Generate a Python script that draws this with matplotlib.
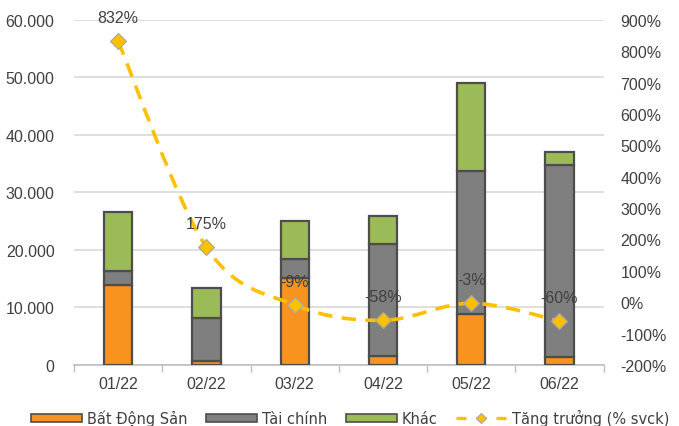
import matplotlib
matplotlib.use('Agg')
import matplotlib.pyplot as plt
import numpy as np
from matplotlib.path import Path
from matplotlib.patches import PathPatch, Patch
from matplotlib.lines import Line2D
from matplotlib.ticker import FuncFormatter, FixedLocator

plt.rcParams['font.family'] = ['Liberation Sans', 'DejaVu Sans']

months    = ['01/22', '02/22', '03/22', '04/22', '05/22', '06/22']
bds       = [13900, 700, 15200, 1550, 8850, 1350]      # Bất Động Sản
tai_chinh = [2450, 7450, 3250, 19500, 24900, 33400]    # Tài chính
khac      = [10250, 5150, 6500, 4800, 15250, 2200]     # Khác
growth    = [832, 175, -9, -58, -3, -60]               # % svck

ORANGE = '#F7931E'
GREY   = '#7F7F7F'
GREEN  = '#9BBB59'
GOLD   = '#FFC000'
EDGE   = '#4D4D4D'
TXT    = '#404040'

fig = plt.figure(figsize=(6.79, 4.27), dpi=100)
ax = fig.add_axes([0.109, 0.143, 0.78, 0.808])
ax2 = ax.twinx()

x = np.arange(len(months))
w = 0.32
bds_a = np.array(bds)
tc_a = np.array(tai_chinh)
kh_a = np.array(khac)
kw = dict(width=w, edgecolor=EDGE, linewidth=1.6, zorder=3)
ax.bar(x, bds_a, color=ORANGE, **kw)
ax.bar(x, tc_a, bottom=bds_a, color=GREY, **kw)
ax.bar(x, kh_a, bottom=bds_a + tc_a, color=GREEN, **kw)

ax.set_xlim(-0.5, len(months) - 0.5)
ax.set_ylim(0, 60000)
ax.set_yticks(np.arange(0, 60001, 10000))
ax.yaxis.set_major_formatter(FuncFormatter(lambda v, p: f'{int(v):,}'.replace(',', '.')))
ax.grid(axis='y', color='#D9D9D9', linewidth=1.2, zorder=0)
ax.set_axisbelow(True)
ax.set_xticks(x)
ax.set_xticklabels(months)
ax.xaxis.set_minor_locator(FixedLocator(np.arange(-0.5, len(months), 1.0)))
ax.tick_params(axis='x', which='major', length=0, pad=8, labelsize=11.5, labelcolor=TXT)
ax.tick_params(axis='x', which='minor', length=5, color='#BFBFBF', width=1)
ax.tick_params(axis='y', length=0, pad=14, labelsize=11.5, labelcolor=TXT)
for s in ['left', 'right', 'top']:
    ax.spines[s].set_visible(False)
    ax2.spines[s].set_visible(False)
ax.spines['bottom'].set_color('#BFBFBF')
ax.spines['bottom'].set_linewidth(1.2)
ax2.spines['bottom'].set_visible(False)

ax2.set_ylim(-200, 900)
ax2.set_yticks(np.arange(-200, 901, 100))
ax2.yaxis.set_major_formatter(FuncFormatter(lambda v, p: f'{int(v)}%'))
ax2.tick_params(axis='y', length=0, pad=12, labelsize=11.5, labelcolor=TXT)

# smoothed growth line (Catmull-Rom as cubic Bezier)
pts = np.column_stack([x, growth]).astype(float)
n = len(pts)
verts = [pts[0]]
codes = [Path.MOVETO]
for i in range(n - 1):
    p0 = pts[i - 1] if i > 0 else pts[i]
    p1 = pts[i]
    p2 = pts[i + 1]
    p3 = pts[i + 2] if i + 2 < n else pts[i + 1]
    c1 = p1 + (p2 - p0) / 6
    c2 = p2 - (p3 - p1) / 6
    verts += [c1, c2, p2]
    codes += [Path.CURVE4] * 3
curve = PathPatch(Path(verts, codes), facecolor='none', edgecolor=GOLD,
                  linewidth=2.6, linestyle=(0, (4, 2.6)), zorder=4)
ax2.add_patch(curve)
ax2.plot(x, growth, linestyle='none', marker='D', markersize=8,
         markerfacecolor=GOLD, markeredgecolor='#A6A6A6', markeredgewidth=0.8, zorder=5)

for xi, g in zip(x, growth):
    ax2.annotate(f'{g}%', (xi, g), xytext=(0, 17), textcoords='offset points',
                 ha='center', va='center', fontsize=11.5, color=TXT, zorder=6)

handles = [
    Patch(facecolor=ORANGE, edgecolor=EDGE, linewidth=1.2),
    Patch(facecolor=GREY, edgecolor=EDGE, linewidth=1.2),
    Patch(facecolor=GREEN, edgecolor=EDGE, linewidth=1.2),
    Line2D([], [], color=GOLD, linewidth=2.4, linestyle=(0, (3, 3)), marker='D',
           markersize=5, markerfacecolor=GOLD, markeredgecolor='#A6A6A6', markeredgewidth=0.8),
]
labels = ['Bất Động Sản', 'Tài chính', 'Khác', 'Tăng trưởng (% svck)']
fig.legend(handles, labels, loc='center', bbox_to_anchor=(0.516, 0.02), ncol=4,
           frameon=False, prop={'family': 'DejaVu Sans', 'size': 10.5},
           handlelength=3.5, handleheight=0.42, handletextpad=0.35,
           columnspacing=1.25, labelcolor=TXT, borderpad=0, borderaxespad=0)

fig.savefig('out.png', dpi=100)
